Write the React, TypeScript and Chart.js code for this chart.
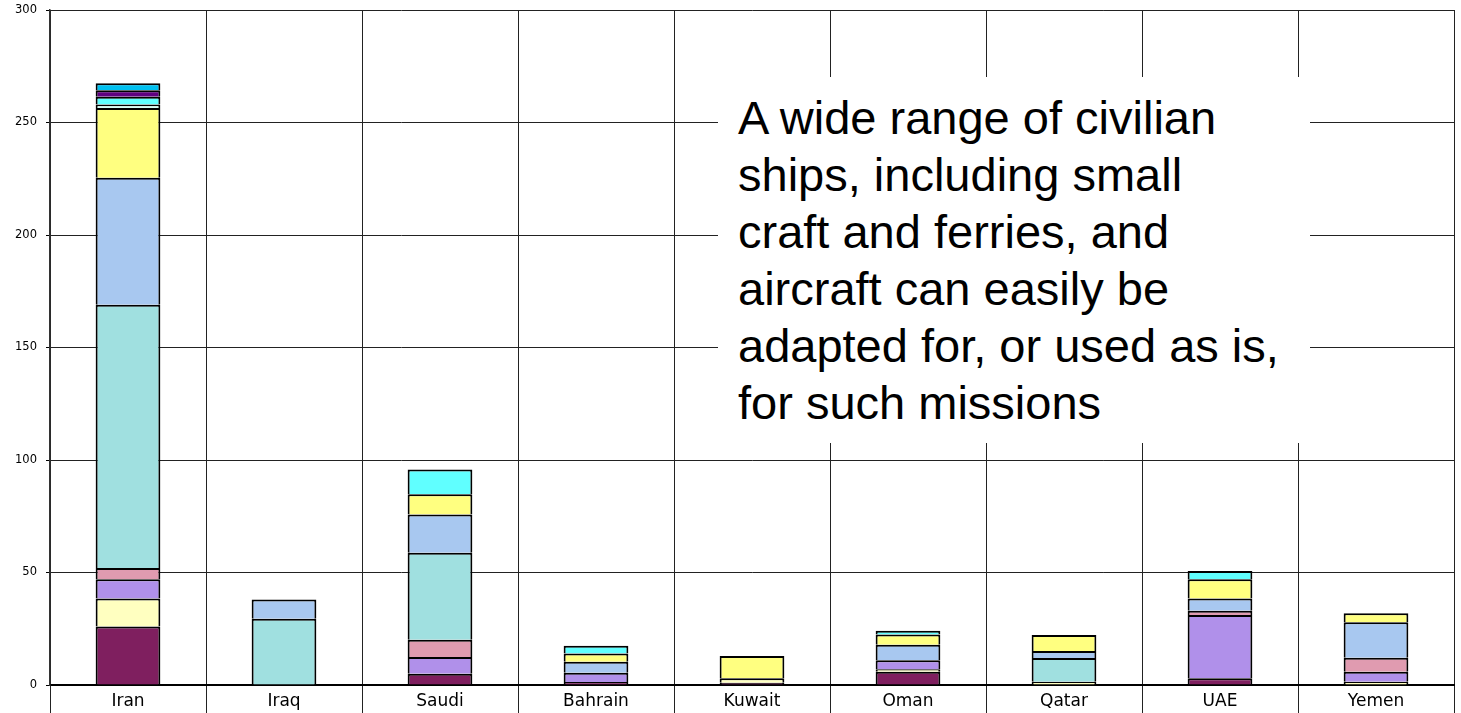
import React, { useEffect, useRef } from "react";
import { Chart, registerables } from "chart.js";

Chart.register(...registerables);

const categories = ["Iran", "Iraq", "Saudi", "Bahrain", "Kuwait", "Oman", "Qatar", "UAE", "Yemen"];
const yTicks = [0, 50, 100, 150, 200, 250, 300];

const seriesMaroon = [26, null, 5, 1.3, 1, 5.9, null, 3, null];
const seriesLightYellow = [12.5, null, null, null, 2, 1.1, 1.5, null, 1.5];
const seriesLavender = [8.5, null, 7.4, 4.2, null, 4, null, 28.1, 4.4];
const seriesPink = [5, null, 7.7, null, null, null, null, 1.9, 6.2];
const seriesTeal = [117, 29.5, 38.7, null, null, null, 10.5, null, null];
const seriesLightBlue = [56.5, 8.5, 17, 4.8, null, 6.9, 3.1, 5.5, 15.8];
const seriesYellow = [31, null, 9, 3.7, 9.9, 4.5, 7.1, 8.5, 4];
const seriesPale = [1.5, null, null, null, null, null, null, null, null];
const seriesCyan = [3.5, null, 11, 3.4, null, 1.7, null, 3.7, null];
const seriesDarkPurple = [2.8, null, null, null, null, null, null, null, null];
const seriesSkyBlue = [3.2, null, null, null, null, null, null, null, null];

const seriesList = [
  { label: "s1", data: seriesMaroon, color: "#7F1F5F" },
  { label: "s2", data: seriesLightYellow, color: "#FFFFC0" },
  { label: "s3", data: seriesLavender, color: "#B090EA" },
  { label: "s4", data: seriesPink, color: "#E09BB0" },
  { label: "s5", data: seriesTeal, color: "#A0E0E0" },
  { label: "s6", data: seriesLightBlue, color: "#A8C8F0" },
  { label: "s7", data: seriesYellow, color: "#FFFF80" },
  { label: "s8", data: seriesPale, color: "#D8FFF4" },
  { label: "s9", data: seriesCyan, color: "#60FFFF" },
  { label: "s10", data: seriesDarkPurple, color: "#600080" },
  { label: "s11", data: seriesSkyBlue, color: "#00C0F0" },
];

const noteLines = [
  "A wide range of civilian",
  "ships, including small",
  "craft and ferries, and",
  "aircraft can easily be",
  "adapted for, or used as is,",
  "for such missions",
];

export default function App() {
  const canvasRef = useRef<HTMLCanvasElement | null>(null);

  useEffect(() => {
    const canvas = canvasRef.current;
    if (!canvas) return;
    const chart = new Chart(canvas, {
      type: "bar",
      data: {
        labels: categories,
        datasets: seriesList.map((s) => ({
          label: s.label,
          data: s.data as any,
          backgroundColor: s.color,
          borderColor: "#000000",
          borderWidth: 2,
          borderSkipped: "start",
          barPercentage: 0.415,
          categoryPercentage: 1,
        })),
      },
      options: {
        animation: false,
        responsive: false,
        devicePixelRatio: 1,
        layout: { padding: { left: 0, top: 10, right: 7, bottom: 0 } },
        plugins: { legend: { display: false }, tooltip: { enabled: false } },
        scales: {
          x: {
            stacked: true,
            afterFit: (scale: any) => {
              scale.height = 28;
              scale.paddingLeft = 0;
              scale.paddingRight = 0;
            },
            grid: {
              offset: true,
              color: "#222222",
              lineWidth: 1,
              drawTicks: true,
              tickLength: 28,
              tickColor: "#222222",
            },
            border: { display: true, color: "#000000", width: 2 },
            ticks: {
              color: "#000000",
              padding: -22,
              font: { family: "DejaVu Sans", size: 17 },
              maxRotation: 0,
            },
          },
          y: {
            stacked: true,
            min: 0,
            max: 300,
            afterFit: (scale: any) => {
              scale.width = 50;
              scale.paddingTop = 0;
              scale.paddingBottom = 0;
            },
            afterBuildTicks: (scale: any) => {
              scale.ticks = yTicks.map((v) => ({ value: v }));
            },
            grid: {
              color: "#222222",
              lineWidth: 1,
              drawTicks: true,
              tickLength: 4,
              tickColor: "#000000",
            },
            border: { display: true, color: "#333333", width: 1.5 },
            ticks: {
              color: "#000000",
              padding: 9,
              font: { family: "DejaVu Sans", size: 11.5 },
            },
          },
        },
      },
    });
    return () => chart.destroy();
  }, []);

  return (
    <div style={{ position: "fixed", left: 0, top: 0, width: 1461, height: 713, background: "#ffffff" }}>
      <canvas ref={canvasRef} width={1461} height={713} style={{ display: "block", width: 1461, height: 713 }} />
      <div
        style={{
          position: "absolute",
          left: 718,
          top: 77,
          width: 592,
          height: 366,
          boxSizing: "border-box",
          background: "#ffffff",
          padding: "12px 10px 0 20px",
          fontFamily: "'Liberation Sans', Arial, sans-serif",
          fontSize: 47,
          lineHeight: "57px",
          color: "#000000",
          whiteSpace: "nowrap",
        }}
      >
        {noteLines.map((line, i) => (
          <div key={i}>{line}</div>
        ))}
      </div>
    </div>
  );
}
